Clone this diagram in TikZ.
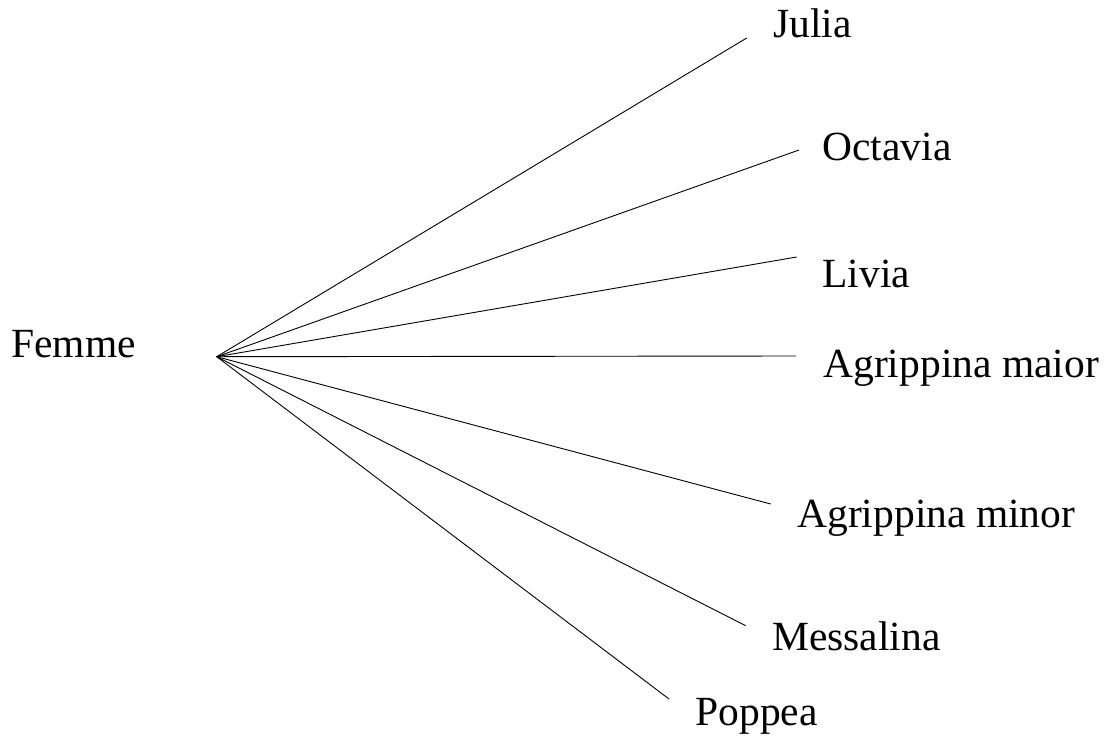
\documentclass[tikz,border=0pt]{standalone}
\usepackage{fontspec}
\setmainfont{Liberation Serif}
\begin{document}
\begin{tikzpicture}[x=1pt, y=-1pt, line width=0.9pt,
	lbl/.style={anchor=base west, inner sep=0pt, font=\fontsize{41.5}{50}\selectfont}]
	\useasboundingbox (0,0) rectangle (1117,740);
	\coordinate (root) at (216.7,356.7);
	\node [lbl] (femme) at (11,357) {Femme};
	\foreach [count=\i] \name/\labl/\tx/\ty/\ex/\ey in {
		julia/{Julia}/773/37/746.7/38,
		octavia/{Octavia}/822/160/799/150,
		livia/{Livia}/822/287/796.7/257,
		maior/{Agrippina maior}/823/377/796/356,
		minor/{Agrippina minor}/797/527/770.7/504,
		messalina/{Messalina}/771.7/650/745.7/625.7,
		poppea/{Poppea}/695/725/669/699
	}
	{
		\node [lbl] (\name) at (\tx,\ty) {\labl};
		\coordinate (\name-end) at (\ex,\ey);
		\draw (root) -- (\name-end);
	}
\end{tikzpicture}
\end{document}
